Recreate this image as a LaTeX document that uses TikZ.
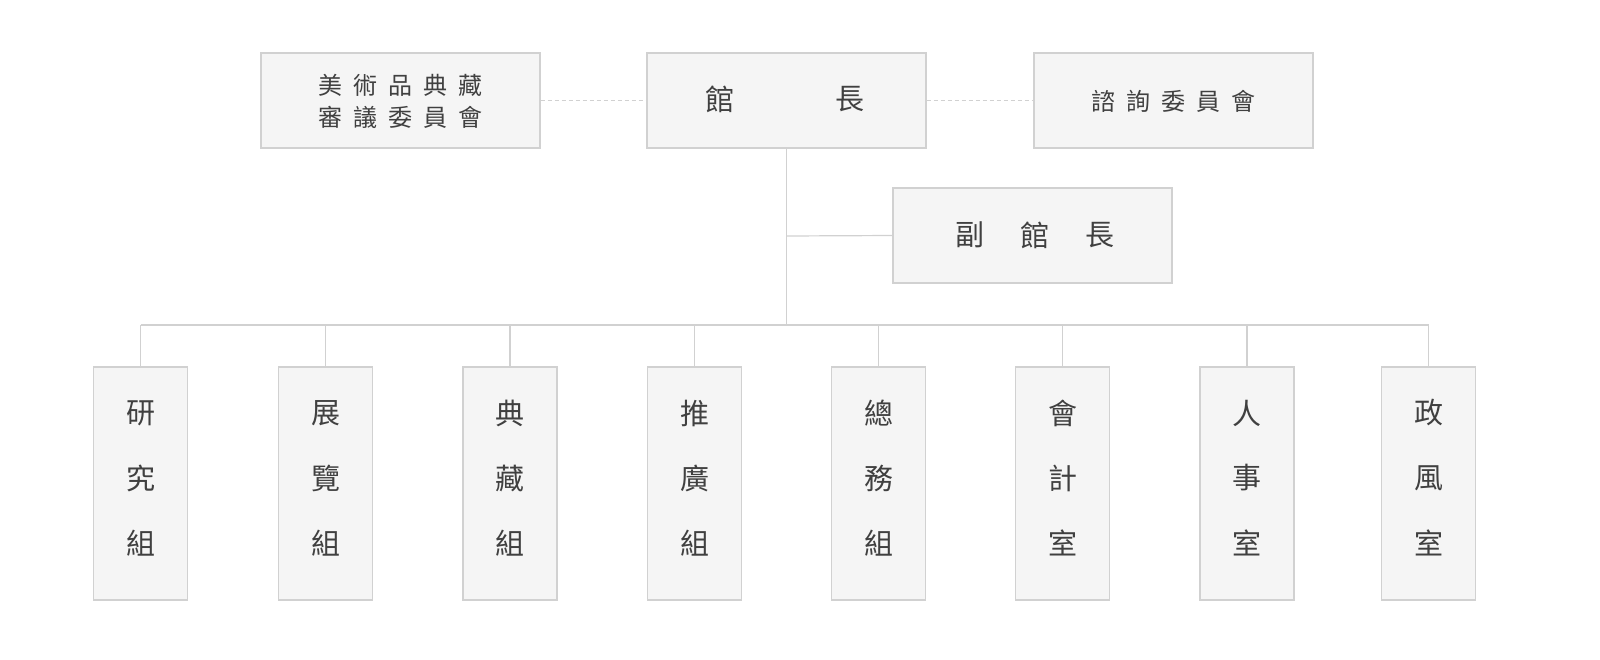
\documentclass[tikz,border=0pt]{standalone}
\usepackage{fontspec}
\newfontfamily\cjk{Noto Sans CJK TC}
\begin{document}
\begin{tikzpicture}[x=1pt,y=-1pt,
  box/.style={draw=black!18,fill=black!4,line width=1.2pt,minimum width=279pt,minimum height=95pt,inner sep=0pt},
  vbox/.style={draw=black!18,fill=black!4,line width=1.2pt,minimum width=94pt,minimum height=233pt,inner sep=0pt},
  txt/.style={text=black!75,font=\cjk\fontsize{29}{35}\selectfont},
  stxt/.style={text=black!75,font=\cjk\fontsize{24}{32}\selectfont},
  ln/.style={draw=black!18,line width=1.2pt}]
\node[box] (art) at (400.5,100.5) {};
\node[box] (dir) at (786.5,100.5) {};
\node[box] (adv) at (1173.5,100.5) {};
\node[box] (dep) at (1032.5,235.5) {};
\node[stxt] at (400.5,85) {美\hspace{0.45em}術\hspace{0.45em}品\hspace{0.45em}典\hspace{0.45em}藏};
\node[stxt] at (400.5,117) {審\hspace{0.45em}議\hspace{0.45em}委\hspace{0.45em}員\hspace{0.45em}會};
\node[txt] at (720,99) {館};
\node[txt] at (850,99) {長};
\node[stxt] at (1173.5,101) {諮\hspace{0.45em}詢\hspace{0.45em}委\hspace{0.45em}員\hspace{0.45em}會};
\node[txt] at (970,235) {副};
\node[txt] at (1035,235) {館};
\node[txt] at (1100,235) {長};
\draw[ln,dashed,dash pattern=on 4pt off 3pt] (art.east) -- (dir.west);
\draw[ln,dashed,dash pattern=on 4pt off 3pt] (dir.east) -- (adv.west);
\coordinate (j) at (786.5,325);
\draw[ln] (dir.south) -- (j);
\draw[ln] (786.5,236) -- (dep.west);
\foreach \n/\x/\a/\b/\c in {b1/140.5/研/究/組,b2/325.5/展/覽/組,b3/510/典/藏/組,b4/694.5/推/廣/組,b5/878.5/總/務/組,b6/1062.5/會/計/室,b7/1247/人/事/室,b8/1428.5/政/風/室}{
  \node[vbox] (\n) at (\x,483.5) {};
  \node[txt] at (\x,413) {\a};
  \node[txt] at (\x,478) {\b};
  \node[txt] at (\x,543) {\c};
  \draw[ln] (\x,325) -- (\n.north);
}
\draw[ln] (b1.north |- j) -- (b8.north |- j);
\pgfresetboundingbox
\useasboundingbox (0,0) rectangle (1600,659);
\end{tikzpicture}
\end{document}
